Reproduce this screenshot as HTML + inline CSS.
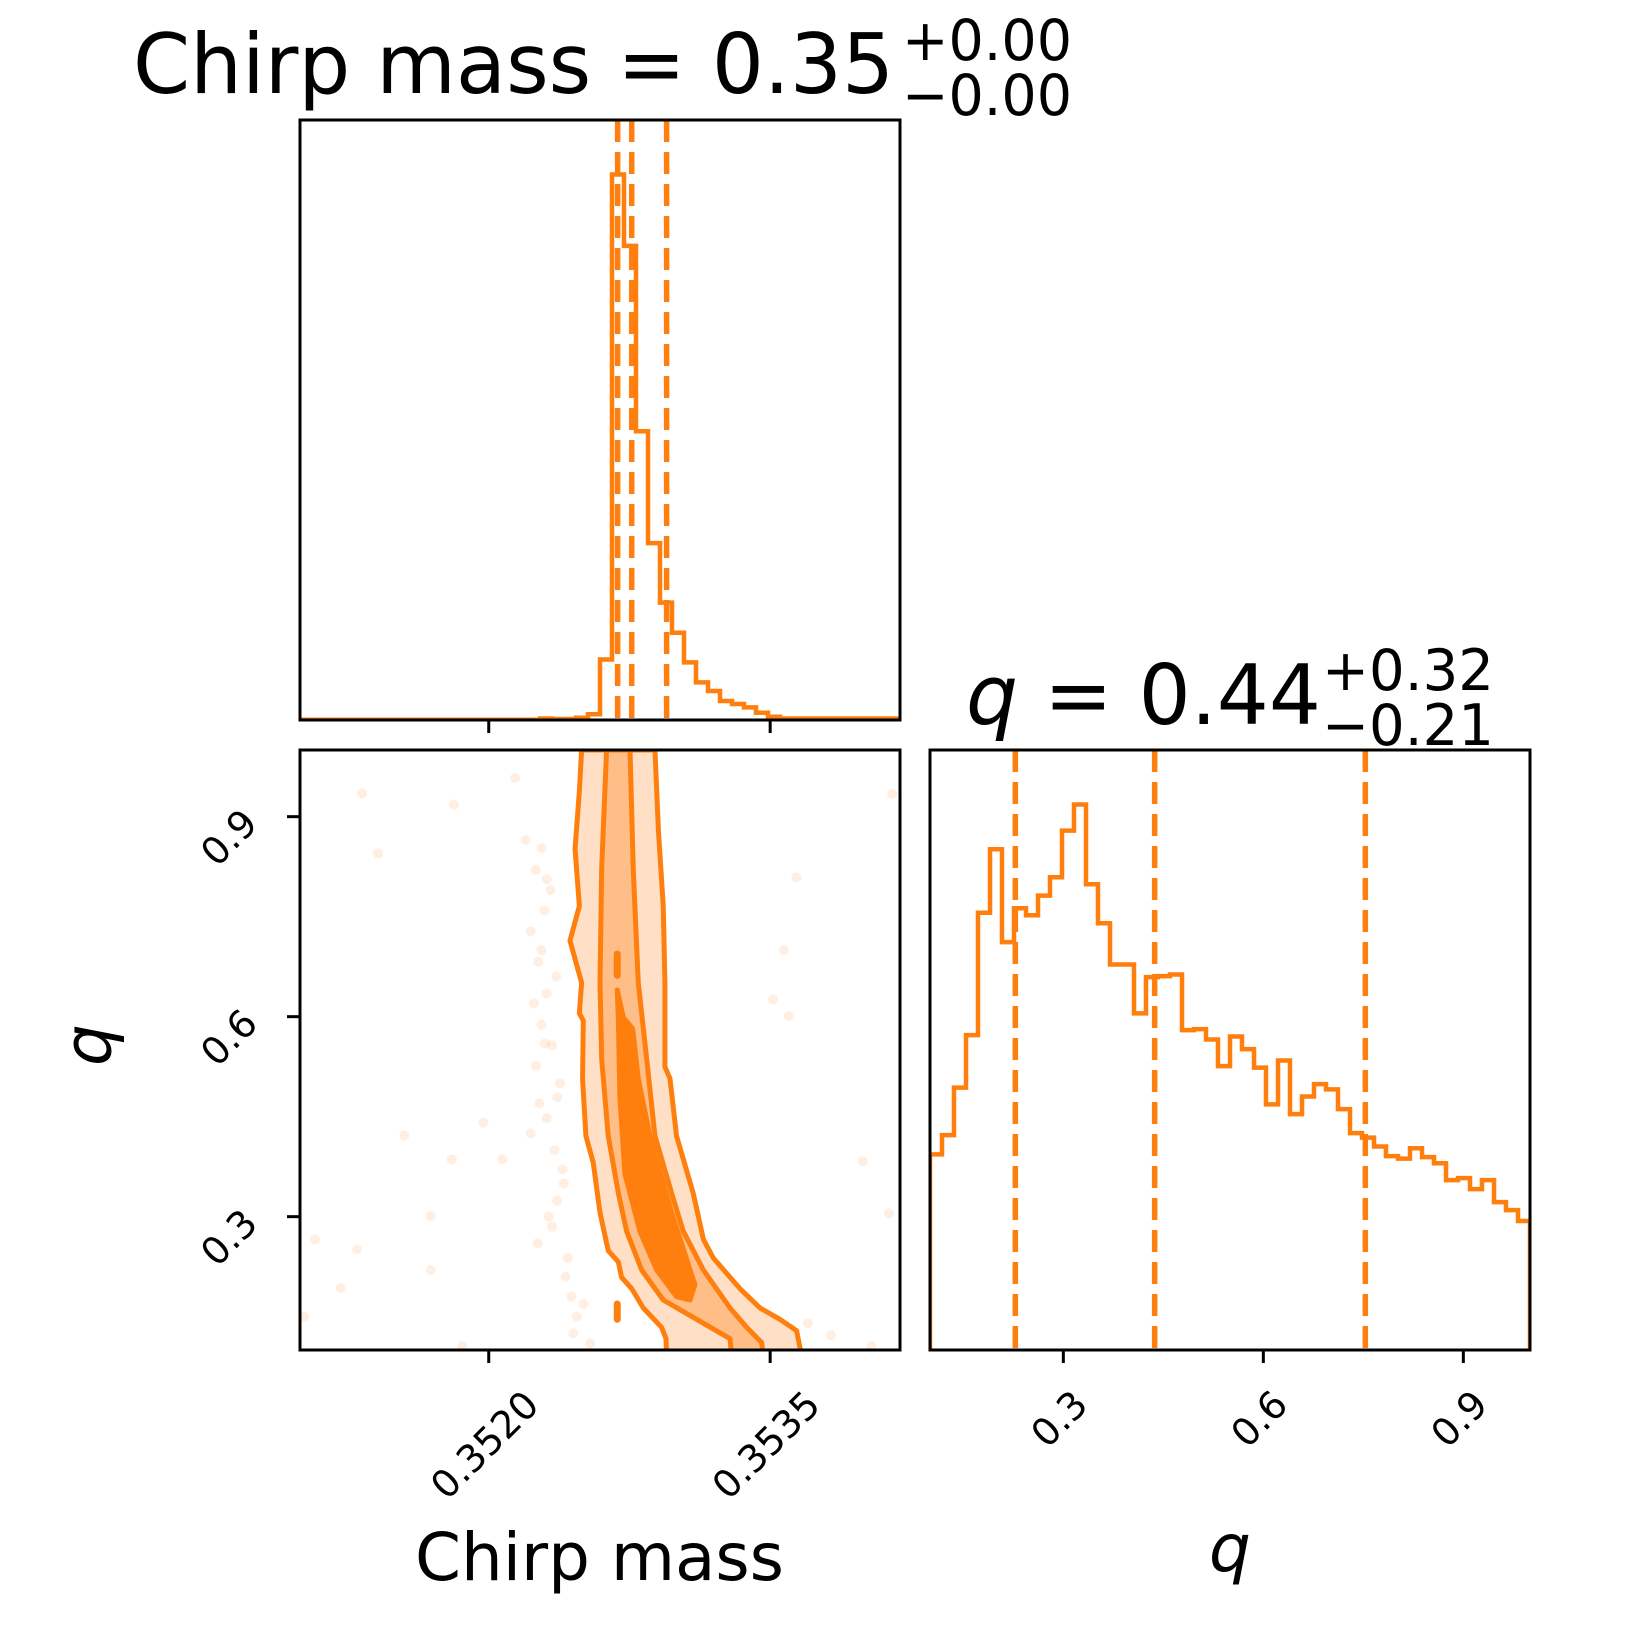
<!DOCTYPE html>
<html><head><meta charset="utf-8"><style>
html,body{margin:0;padding:0;background:#fff;}
svg{display:block;font-family:"DejaVu Sans","Liberation Sans",sans-serif;}
</style></head><body>
<svg id="fig" width="1650" height="1650" viewBox="0 0 1650 1650" xmlns="http://www.w3.org/2000/svg">
<defs>
<clipPath id="clipTL"><rect x="300" y="120" width="600" height="600"/></clipPath>
<clipPath id="clipBL"><rect x="300" y="750" width="600" height="600"/></clipPath>
<clipPath id="clipBR"><rect x="930" y="750" width="600" height="600"/></clipPath>
</defs>
<g id="gTL" clip-path="url(#clipTL)"></g>
<g id="gBL" clip-path="url(#clipBL)"></g>
<g id="gBR" clip-path="url(#clipBR)"></g>
<g id="axes"></g>
<g>
<text x="133" y="93" font-size="83" textLength="761" lengthAdjust="spacingAndGlyphs">Chirp mass = 0.35</text>
<text x="902" y="60" font-size="57" textLength="170" lengthAdjust="spacingAndGlyphs">+0.00</text>
<text x="902" y="115" font-size="57" textLength="170" lengthAdjust="spacingAndGlyphs">−0.00</text>
</g>
<g>
<text x="966" y="724" font-size="83" textLength="355" lengthAdjust="spacingAndGlyphs"><tspan font-style="italic">q</tspan> = 0.44</text>
<text x="1322" y="690" font-size="57" textLength="172" lengthAdjust="spacingAndGlyphs">+0.32</text>
<text x="1322" y="745" font-size="57" textLength="172" lengthAdjust="spacingAndGlyphs">−0.21</text>
</g>
<text x="415" y="1580" font-size="66" textLength="369" lengthAdjust="spacingAndGlyphs">Chirp mass</text>
<text x="1230" y="1571" font-size="66" font-style="italic" text-anchor="middle">q</text>
<text x="0" y="0" font-size="66" font-style="italic" text-anchor="middle" dominant-baseline="central" transform="translate(88,1045) rotate(-90)">q</text>
</svg>
<script>
// ---- data ----
const chirpRange = [0.350994, 0.354192];
const qRange = [0.1, 1.0];
const chirpCounts = [0.3,0.3,0.3,0.3,0.3,0.3,0.3,0.3,0.3,0.3,0.3,0.3,0.3,0.3,0.3,0.3,0.3,0.3,0.3,0.3,
  1.5,1,1,2.3,5.7,60.5,546,474.6,289,177,117.5,87.3,57.7,37.7,29,19,16,12.7,7.3,3.3,
  1.5,1.5,1.5,1.5,1.5,1.5,1.5,1.5,1.5,1.5];
const qCounts = [195.7,215,262.5,315,437.5,501,408,442,435,454.6,473,519.6,545.7,466,427,385.7,385.7,336.8,373,374,
  375.7,320,321,310.7,284,313.6,301,282.5,245.7,289.6,236,253.6,266,260.7,241,217,212.5,203.6,194,191.4,
  201.8,193,186.8,170,172,161,170,148,140,129];
const chirpQuantiles = [0.352687, 0.352762, 0.352948];
const qQuantiles = [0.228, 0.437, 0.753];
const chirpTicks = [0.3520, 0.3535];
const chirpTickLabels = ["0.3520", "0.3535"];
const qTicks = [0.3, 0.6, 0.9];
const qTickLabels = ["0.3", "0.6", "0.9"];
// contours: [q, chirp]
const outerLeft = [[1.0,.352495],[.938,.352483],[.852,.352460],[.766,.352483],[.714,.352433],[.651,.352495],[.605,.352483],[.594,.352504],[.507,.352500],[.421,.352518],[.381,.352557],[.306,.352593],[.249,.352637],[.232,.352691],[.209,.352708],[.192,.352762],[.163,.352824],[.134,.352921],[.117,.352945],[.09,.352948]];
const outerRight = [[.09,.353668],[.129,.353641],[.146,.353552],[.163,.353446],[.192,.353339],[.238,.353197],[.266,.353144],[.335,.353090],[.421,.353001],[.507,.352966],[.525,.352939],[.651,.352939],[.766,.352930],[.881,.352904],[1.0,.352886]];
const midLeft = [[1.0,.352628],[.823,.352602],[.651,.352593],[.536,.352602],[.421,.352637],[.335,.352691],[.278,.352735],[.220,.352815],[.175,.352930],[.146,.353108],[.117,.353286],[.09,.353295]];
const midRight = [[.09,.353463],[.111,.353455],[.134,.353375],[.163,.353286],[.220,.353144],[.278,.353037],[.335,.352975],[.421,.352886],[.536,.352842],[.651,.352797],[.823,.352770],[1.0,.352753]];
const inner = [[.640,.352685],[.594,.352691],[.479,.352699],[.364,.352726],[.278,.352806],[.220,.352895],[.180,.353001],[.175,.353073],[.198,.353099],[.220,.353073],[.306,.352975],[.421,.352859],[.507,.352797],[.582,.352767],[.599,.352717],[.640,.352685]];
const innerDash = [[.694,.352685],[.662,.352685]];
const innerBlob = [[.169,.352685],[.146,.352685]];
const scatterChirp = [.351325,.351410,.351814,.352140,.352196,.352281,.352309,.352297,.352224,.352264,.352309,.352281,.352337,.352252,.352365,.352309,.352224,.352393,.352365,.352337,.352421,.351550,.351972,.352073,.351803,.351691,.351073,.351297,.351691,.351213,.351016,.351859,.352505,.353573,.353516,.353601,.353640,.353994,.354151,.354134,.353825,.354039,
  .352250,.352330,.352280,.352360,.352240,.352300,.352380,.352270,.352350,.352400,.352320,.352260,.352410,.352440,.352470,.352450,.352540,.353050,.353120,.353700,.353550];
const scatterQ = [.935,.845,.918,.958,.865,.853,.806,.759,.728,.682,.635,.588,.557,.526,.479,.448,.425,.371,.324,.285,.238,.422,.441,.386,.386,.301,.266,.251,.220,.193,.150,.106,.169,.700,.626,.601,.809,.383,.934,.305,.122,.106,
  .820,.790,.700,.660,.620,.560,.500,.470,.400,.350,.300,.260,.210,.180,.150,.125,.110,.190,.140,.140,.115];

// ---- axes functions ----
const NS = "http://www.w3.org/2000/svg";
const ORANGE = "#ff7f0e";
function xC(c){ return 300 + (c - chirpRange[0]) / (chirpRange[1] - chirpRange[0]) * 600; }
function yQ(q){ return 1350 - (q - qRange[0]) / (qRange[1] - qRange[0]) * 600; }
function xQ(q){ return 930 + (q - qRange[0]) / (qRange[1] - qRange[0]) * 600; }
function mk(tag, attrs, parent){
  const e = document.createElementNS(NS, tag);
  for (const k in attrs) e.setAttribute(k, attrs[k]);
  parent.appendChild(e); return e;
}
const gTL = document.getElementById('gTL');
const gBL = document.getElementById('gBL');
const gBR = document.getElementById('gBR');
const gAx = document.getElementById('axes');

// top-left histogram
(function(){
  const n = chirpCounts.length, mx = Math.max(...chirpCounts) * 1.1;
  const bw = (chirpRange[1]-chirpRange[0]) / n;
  const yH = h => 720 - h / mx * 600;
  let d = `M${xC(chirpRange[0])},720`;
  chirpCounts.forEach((h,i)=>{ d += ` V${yH(h)} H${xC(chirpRange[0]+(i+1)*bw)}`; });
  d += ' V720';
  const p = mk('path', {d, fill:'none', stroke:ORANGE, 'stroke-width':4.5}, gTL);
  
  
  chirpQuantiles.forEach(c=>{
    const l = mk('line', {x1:xC(c), x2:xC(c), y1:120, y2:720, stroke:ORANGE, 'stroke-width':5.5, 'stroke-dasharray':'22 10'}, gTL);
    
    
  });
})();

// q histogram
(function(){
  const n = qCounts.length, mx = Math.max(...qCounts) * 1.1;
  const bw = (qRange[1]-qRange[0]) / n;
  const yH = h => 1350 - h / mx * 600;
  let d = `M${xQ(qRange[0])},1350`;
  qCounts.forEach((h,i)=>{ d += ` V${yH(h)} H${xQ(qRange[0]+(i+1)*bw)}`; });
  d += ' V1350';
  const p = mk('path', {d, fill:'none', stroke:ORANGE, 'stroke-width':4.5}, gBR);
  
  
  qQuantiles.forEach(q=>{
    const l = mk('line', {x1:xQ(q), x2:xQ(q), y1:750, y2:1350, stroke:ORANGE, 'stroke-width':5.5, 'stroke-dasharray':'22 10'}, gBR);
    
    
  });
})();

// 2D panel
(function(){
  scatterChirp.forEach((c,i)=>{
    const pt = mk('circle', {cx:xC(c), cy:yQ(scatterQ[i]), r:5, fill:ORANGE, 'fill-opacity':0.12}, gBL);
    
    
  });
  const pts = arr => arr.map(p=>`${xC(p[1])},${yQ(p[0])}`).join(' ');
  const outer = mk('polygon', {points: pts(outerLeft.concat(outerRight)), fill:'#ffe0c6', stroke:ORANGE, 'stroke-width':5, 'stroke-linejoin':'round'}, gBL);
  
  
  const mid = mk('polygon', {points: pts(midLeft.concat(midRight)), fill:'#ffbe87', stroke:ORANGE, 'stroke-width':5, 'stroke-linejoin':'round'}, gBL);
  
  
  const inn = mk('polygon', {points: pts(inner), fill:ORANGE, stroke:ORANGE, 'stroke-width':5, 'stroke-linejoin':'round'}, gBL);
  
  
  [innerDash, innerBlob].forEach(seg=>{
    const l = mk('polyline', {points: pts(seg), fill:'none', stroke:ORANGE, 'stroke-width':7, 'stroke-linecap':'round'}, gBL);
    
    
  });
})();

// axes frames & ticks
(function(){
  [[300,120],[300,750],[930,750]].forEach(([x,y],i)=>{
    const r = mk('rect', {x, y, width:600, height:600, fill:'none', stroke:'#000', 'stroke-width':3}, gAx);
    
    
  });
  chirpTicks.forEach((c,i)=>{
    const x = xC(c);
    const t1 = mk('line', {x1:x, x2:x, y1:720, y2:733, stroke:'#000', 'stroke-width':3}, gAx);
    
    
    const t2 = mk('line', {x1:x, x2:x, y1:1350, y2:1363, stroke:'#000', 'stroke-width':3}, gAx);
    
    
    const lb = mk('text', {x:0, y:0, 'font-size':38, 'text-anchor':'middle', 'dominant-baseline':'central', transform:`translate(${x-4},1445) rotate(-45)`}, gAx);
    lb.textContent = chirpTickLabels[i];
    
    
  });
  qTicks.forEach((q,i)=>{
    const x = xQ(q);
    const t = mk('line', {x1:x, x2:x, y1:1350, y2:1363, stroke:'#000', 'stroke-width':3}, gAx);
    
    
    const lb = mk('text', {x:0, y:0, 'font-size':38, 'text-anchor':'middle', 'dominant-baseline':'central', transform:`translate(${x-4},1419) rotate(-45)`}, gAx);
    lb.textContent = qTickLabels[i];
    
    
    const y = yQ(q);
    const ty = mk('line', {x1:287, x2:300, y1:y, y2:y, stroke:'#000', 'stroke-width':3}, gAx);
    
    
    const ly = mk('text', {x:0, y:0, 'font-size':38, 'text-anchor':'middle', 'dominant-baseline':'central', transform:`translate(229,${y+21}) rotate(-45)`}, gAx);
    ly.textContent = qTickLabels[i];
    
    
  });
})();
</script>
</body></html>
